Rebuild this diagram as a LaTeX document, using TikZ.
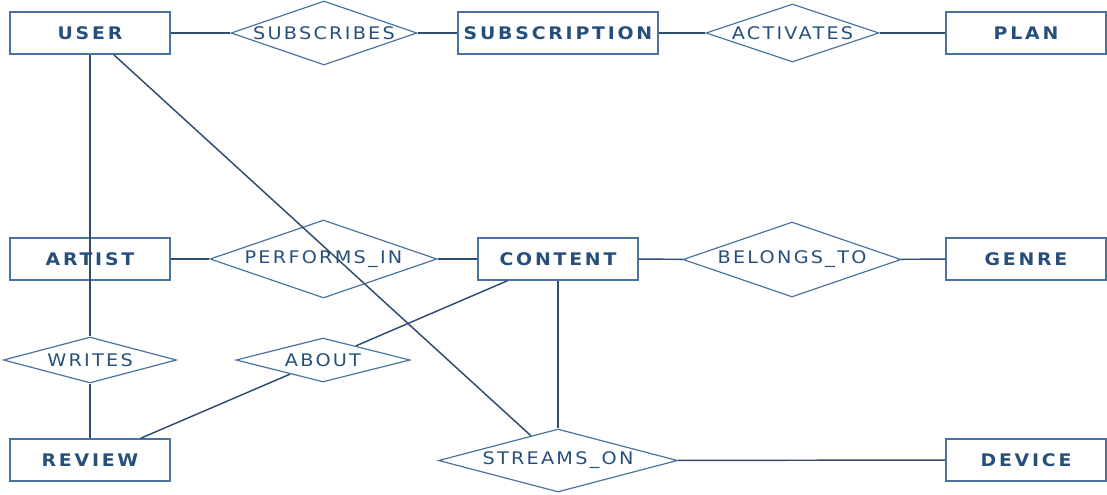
\documentclass[tikz,border=0pt]{standalone}
\usepackage{fontspec}
\setmainfont{DejaVu Sans}
\newfontfamily\entfont[LetterSpace=16,FakeStretch=1.09]{DejaVu Sans Bold}
\newfontfamily\relfont[LetterSpace=13,FakeStretch=1.11]{DejaVu Sans}
\usetikzlibrary{shapes.geometric}
\definecolor{boxc}{HTML}{4A73A0}
\definecolor{txtc}{HTML}{264F7C}
\definecolor{edgec}{HTML}{2E4C6E}
\newcommand{\rtext}[1]{\makebox[0pt]{#1}}
\tikzset{
  ent/.style={draw=boxc, line width=1.1pt, rectangle, minimum width=160*0.75pt, minimum height=42*0.75pt, inner sep=0pt, text=txtc, font=\entfont\fontsize{13pt}{15pt}\selectfont},
  rel/.style={draw=boxc, line width=0.9pt, diamond, inner sep=0pt, text=txtc, font=\relfont\fontsize{13pt}{15pt}\selectfont},
  edge/.style={draw=edgec, line width=1.1pt}
}
\begin{document}
\begin{tikzpicture}[x=0.75pt,y=-0.75pt]
\useasboundingbox (0,0) rectangle (1107,494);
\node[ent] (user) at (90,33) {USER};
\node[rel, minimum width=186*0.75pt, minimum height=64*0.75pt] (subscribes) at (324,33) {\rtext{SUBSCRIBES}};
\node[ent, minimum width=200*0.75pt] (subscription) at (558,33) {SUBSCRIPTION};
\node[rel, minimum width=173*0.75pt, minimum height=58*0.75pt] (activates) at (792.5,33) {\rtext{ACTIVATES}};
\node[ent] (plan) at (1026,33) {PLAN};
\node[ent] (artist) at (90,259) {ARTIST};
\node[rel, minimum width=227*0.75pt, minimum height=78*0.75pt] (performs) at (323.5,259) {\rtext{PERFORMS\_IN}};
\node[ent] (content) at (558,259) {CONTENT};
\node[rel, minimum width=218*0.75pt, minimum height=75*0.75pt] (belongs) at (792,259.5) {\rtext{BELONGS\_TO}};
\node[ent] (genre) at (1026,259) {GENRE};
\node[rel, minimum width=173*0.75pt, minimum height=46*0.75pt] (writes) at (90,360) {\rtext{WRITES}};
\node[rel, minimum width=174*0.75pt, minimum height=44*0.75pt] (about) at (323,360) {\rtext{ABOUT}};
\node[ent] (review) at (90,460) {REVIEW};
\node[rel, minimum width=239*0.75pt, minimum height=63*0.75pt] (streams) at (558,460.5) {\rtext{STREAMS\_ON}};
\node[ent] (device) at (1026,460) {DEVICE};
\draw[edge] (user) -- (subscribes);
\draw[edge] (subscribes) -- (subscription);
\draw[edge] (subscription) -- (activates);
\draw[edge] (activates) -- (plan);
\draw[edge] (user.south) -- (writes.north);
\draw[edge] (user) -- (streams);
\draw[edge] (artist) -- (performs);
\draw[edge] (performs) -- (content);
\draw[edge] (content) -- (belongs);
\draw[edge] (belongs) -- (genre);
\draw[edge] (content) -- (about);
\draw[edge] (about) -- (review);
\draw[edge] (writes) -- (review);
\draw[edge] (content) -- (streams);
\draw[edge] (streams) -- (device);
\end{tikzpicture}
\end{document}
